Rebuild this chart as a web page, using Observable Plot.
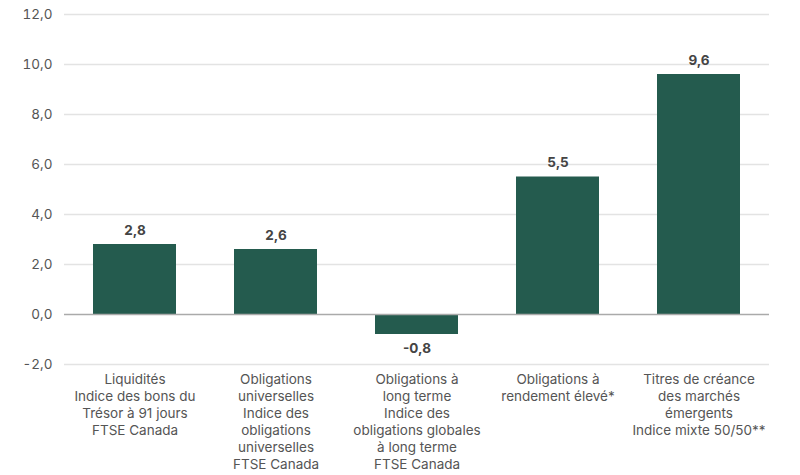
<!DOCTYPE html>
<html>
<head>
<meta charset="utf-8">
<script src="https://cdn.jsdelivr.net/npm/d3@7"></script>
<script src="https://cdn.jsdelivr.net/npm/@observablehq/plot@0.6"></script>
<style>
  body { margin: 0; background: #fff; }
  #chart { width: 800px; height: 475px; }
  svg { font-family: "Inter", "Noto Sans", sans-serif; }
</style>
</head>
<body>
<div id="chart"></div>
<script>
const categories = [
  "Liquidités\nIndice des bons du\nTrésor à 91 jours\nFTSE Canada",
  "Obligations\nuniverselles\nIndice des\nobligations\nuniverselles\nFTSE Canada",
  "Obligations à\nlong terme\nIndice des\nobligations globales\nà long terme\nFTSE Canada",
  "Obligations à\nrendement élevé*",
  "Titres de créance\ndes marchés\némergents\nIndice mixte 50/50**"
];
const values = [2.8, 2.6, -0.8, 5.5, 9.6];
const yTicks = [-2, 0, 2, 4, 6, 8, 10, 12];

const data = categories.map((c, i) => ({category: c, value: values[i]}));
const pos = data.filter(d => d.value >= 0);
const neg = data.filter(d => d.value < 0);
const fmt = d => d.toFixed(1).replace(".", ",");

const W = 800, H = 475, mL = 64, mR = 31;
const pInner = 0.41, pOuter = 0.205;

const labelOpts = dy => ({
  x: "category", y: "value",
  text: d => fmt(d.value),
  dy,
  fontWeight: "bold", fontSize: 13.5, fill: "#444"
});

const chart = Plot.plot({
  width: W,
  height: H,
  marginTop: 14,
  marginBottom: 111,
  marginLeft: mL,
  marginRight: mR,
  style: {fontFamily: "Inter, 'Noto Sans', sans-serif", background: "#fff", overflow: "visible"},
  x: {type: "band", domain: categories, paddingInner: pInner, paddingOuter: pOuter, label: null},
  y: {domain: [-2, 12], ticks: yTicks, label: null},
  marks: [
    Plot.gridY(yTicks.filter(d => d !== 0), {stroke: "#e3e3e3", strokeOpacity: 1, strokeWidth: 1.5}),
    Plot.axisY(yTicks, {tickSize: 0, tickPadding: 12, tickFormat: fmt, fontSize: 13.5, fill: "#555", label: null}),
    Plot.barY(data, {x: "category", y: "value", fill: "#245b4e"}),
    Plot.ruleY([0], {stroke: "#aaaaaa", strokeWidth: 1.5}),
    Plot.axisX({tickSize: 0, tickPadding: 8, fontSize: 13.5, fill: "#555", lineHeight: 1.25, lineAnchor: "top", label: null}),
    Plot.text(pos, labelOpts(-14)),
    Plot.text(neg, labelOpts(14))
  ]
});
document.getElementById("chart").append(chart);
</script>
</body>
</html>
